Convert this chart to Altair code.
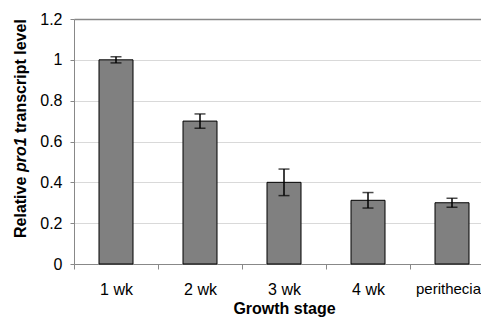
import altair as alt
import pandas as pd

stages = ["1 wk", "2 wk", "3 wk", "4 wk", "perithecia"]
levels = [1.0, 0.70, 0.40, 0.312, 0.30]
errors = [0.015, 0.035, 0.065, 0.038, 0.022]

df = pd.DataFrame({
    "stage": stages,
    "level": levels,
    "lo": [v - e for v, e in zip(levels, errors)],
    "hi": [v + e for v, e in zip(levels, errors)],
})

FONT = "Liberation Sans"
LAST = "datum.value === 'perithecia'"

x_scale = alt.Scale(paddingInner=0, paddingOuter=0, range=[0, 420])
x = alt.X(
    "stage:N",
    sort=stages,
    scale=x_scale,
    axis=alt.Axis(
        title="Growth stage",
        titleFont=FONT, titleFontSize=16, titleFontWeight="bold", titleColor="black",
        titlePadding=3, titleX=210,
        labelFont=FONT, labelColor="black", labelAngle=0,
        labelFontSize={"condition": {"test": LAST, "value": 15}, "value": 16},
        labelOffset={"condition": {"test": LAST, "value": -4}, "value": 0},
        labelPadding=12, tickSize=5, tickColor="#888888", domainColor="#888888",
        tickBand="extent", grid=False,
    ),
)

y_scale = alt.Scale(domain=[0, 1.2], nice=False)

bars = alt.Chart(df).mark_bar(size=34, color="#808080", stroke="black", strokeWidth=1).encode(
    x=x,
    y=alt.Y(
        "level:Q",
        scale=y_scale,
        axis=alt.Axis(
            title=None,
            values=[0, 0.2, 0.4, 0.6, 0.8, 1.0, 1.2],
            format=".1~f",
            labelFont=FONT, labelFontSize=16, labelColor="black",
            labelPadding=8, tickSize=4, tickColor="#888888", domainColor="#888888",
            gridColor={"condition": {"test": "datum.value >= 1.19", "value": "#888888"}, "value": "#d9d9d9"},
            gridWidth={"condition": {"test": "datum.value >= 1.19", "value": 1.5}, "value": 1},
        ),
    ),
)

rules = alt.Chart(df).mark_rule(color="black", strokeWidth=1.5).encode(
    x=alt.X("stage:N", sort=stages, scale=x_scale),
    y=alt.Y("lo:Q", scale=y_scale),
    y2="hi:Q",
)

caps_lo = alt.Chart(df).mark_tick(color="black", thickness=1.5, size=11, orient="horizontal").encode(
    x=alt.X("stage:N", sort=stages, scale=x_scale),
    y=alt.Y("lo:Q", scale=y_scale),
)
caps_hi = alt.Chart(df).mark_tick(color="black", thickness=1.5, size=11, orient="horizontal").encode(
    x=alt.X("stage:N", sort=stages, scale=x_scale),
    y=alt.Y("hi:Q", scale=y_scale),
)

title_style = dict(angle=270, align="left", baseline="middle", font=FONT, fontSize=16,
                   fontWeight="bold", color="black")

t1 = alt.Chart(pd.DataFrame({"t": ["Relative"]})).mark_text(**title_style).encode(
    text="t:N", x=alt.value(-53), y=alt.value(219))
t2 = alt.Chart(pd.DataFrame({"t": ["pro1"]})).mark_text(fontStyle="italic", **title_style).encode(
    text="t:N", x=alt.value(-53), y=alt.value(153))
t3 = alt.Chart(pd.DataFrame({"t": ["transcript level"]})).mark_text(**title_style).encode(
    text="t:N", x=alt.value(-53), y=alt.value(114))

chart = alt.layer(bars, rules, caps_lo, caps_hi, t1, t2, t3).properties(
    width=407, height=245,
    autosize=alt.AutoSizeParams(type="none"),
    padding={"left": 66, "top": 11, "right": 0, "bottom": 54},
).configure_view(stroke=None).configure(background="white")

chart.save("out.html", embed_options={"renderer": "svg", "actions": False})
